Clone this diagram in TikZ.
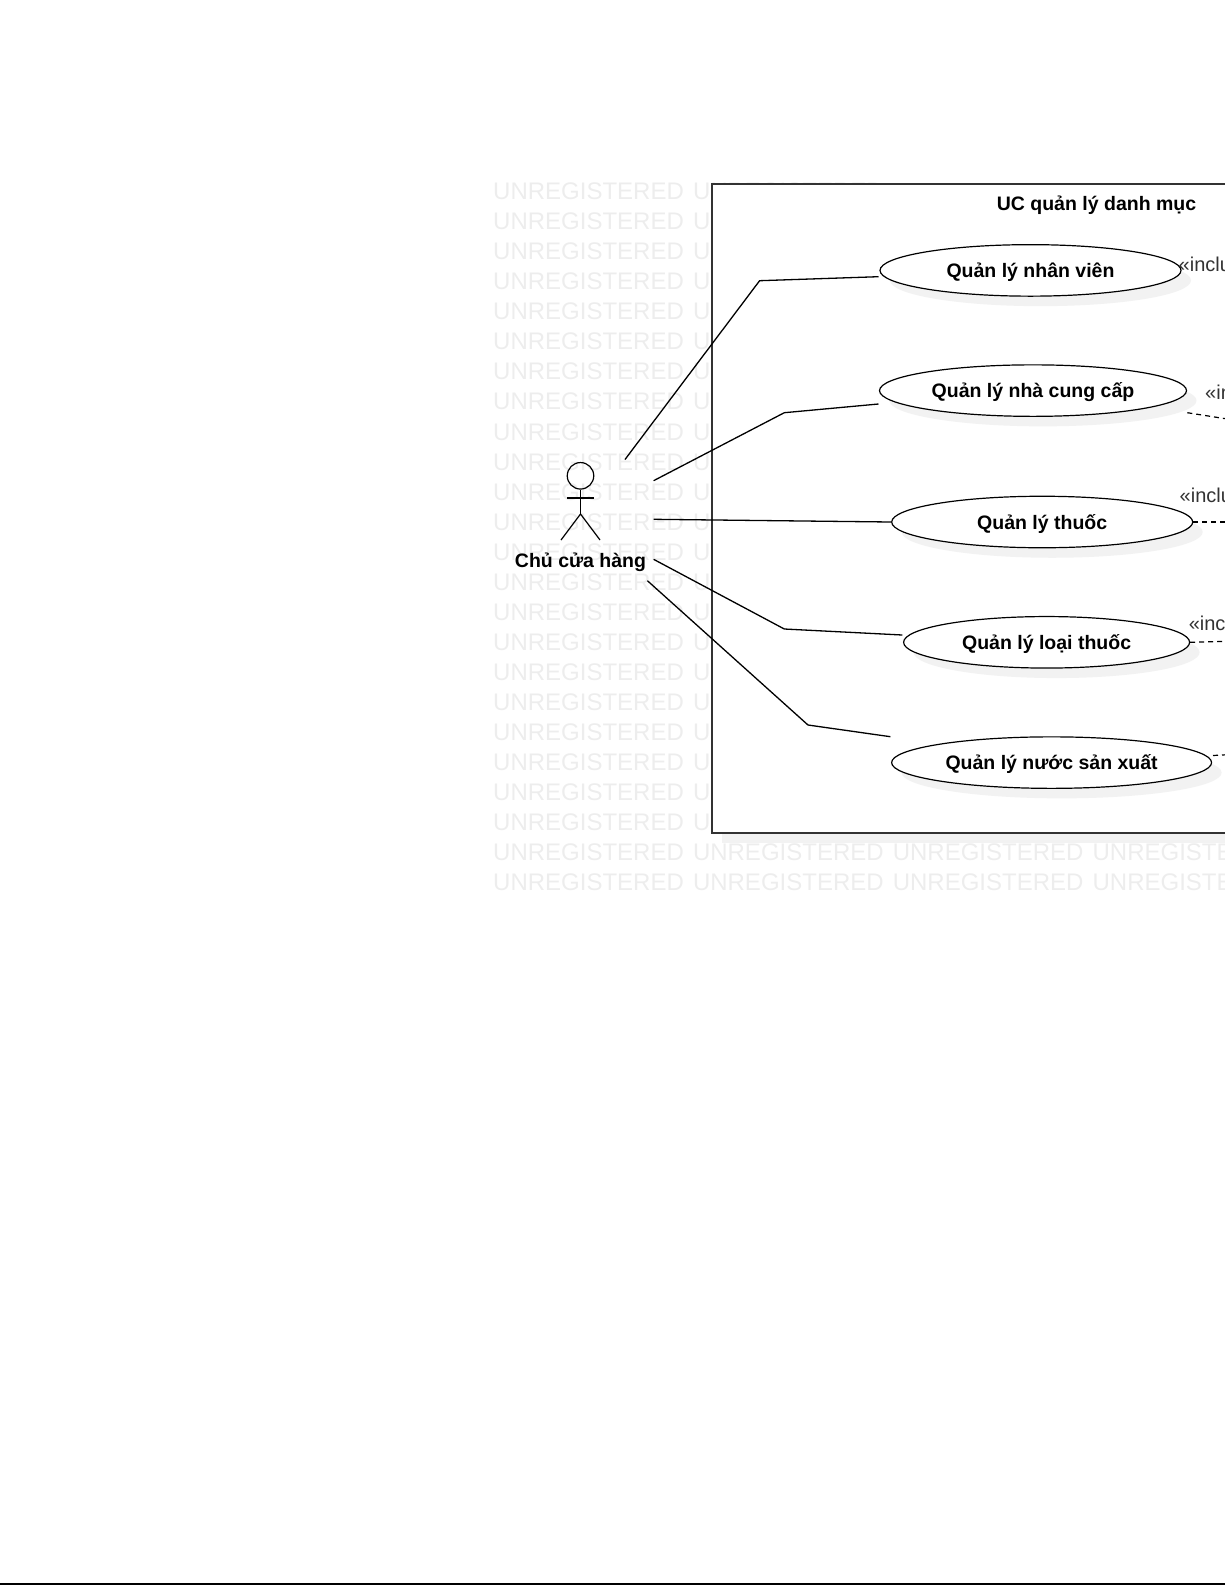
\documentclass[tikz,border=0pt]{standalone}
\usepackage{fontspec}
\setmainfont{Liberation Sans}
\usetikzlibrary{shapes.geometric}
\usetikzlibrary{shadows}
\definecolor{markgray}{HTML}{EDEDED}
\definecolor{shadowgray}{HTML}{F2F2F2}
\definecolor{framegray}{HTML}{333333}
\definecolor{notegray}{HTML}{333333}

\begin{document}
\begin{tikzpicture}[
            x=1pt,y=-1pt,
            usecase/.style={ellipse,draw=black,fill=white,line width=1.2pt,inner sep=0pt,minimum height=51.5pt,font=\fontsize{19.5}{24}\selectfont\bfseries,text height=18pt,text depth=4pt,drop shadow={shadow xshift=10pt,shadow yshift=-10pt,opacity=1,fill=shadowgray}},
            frame box/.style={rectangle,draw=framegray,fill=white,line width=1.5pt,inner sep=0pt,drop shadow={shadow xshift=10pt,shadow yshift=-10pt,opacity=1,fill=shadowgray}},
            title text/.style={font=\fontsize{19.5}{24}\selectfont\bfseries,inner sep=0pt,text height=18pt,text depth=4pt},
            mark text/.style={font=\fontsize{24}{28}\selectfont,text=markgray,inner sep=0pt,anchor=west},
            note text/.style={font=\fontsize{20}{24}\selectfont,text=notegray,inner sep=0pt,anchor=west},
            assoc/.style={draw=black,line width=1.3pt},
            dep/.style={draw=black,line width=1.2pt,dash pattern=on 5pt off 4pt},
            ]

            \useasboundingbox (0,0) rectangle (1225,1585);
            \clip (0,0) rectangle (1225,1585);

            % watermark
            \foreach \r in {0,...,21} {
                \foreach \c in {0,1} {
                    \node[mark text] (mark\r-\c) at ({493 + 199.8 * \c},{191.5 + 30.03 * \r}) {UNREGISTERED};
                }
            }
            \foreach \r in {22,23} {
                \foreach \c in {0,...,3} {
                    \node[mark text] (mark\r-\c) at ({493 + 199.8 * \c},{191.5 + 30.03 * \r}) {UNREGISTERED};
                }
            }

            % page edge
            \coordinate (edgeL) at (0,1584);
            \coordinate (edgeR) at (1225,1584);
            \draw[line width=1.6pt] (edgeL) -- (edgeR);

            \node[frame box, minimum width=700pt, minimum height=649pt] (frame) at (1061.8,508.5) {};
            \node[title text] (title) at (1096.5,203) {UC quản lý danh mục};

            \node[usecase, minimum width=301pt] (nhanvien) at (1030.5,270.4) {Quản lý nhân viên};
            \node[usecase, minimum width=307pt] (nhacungcap) at (1033,390.6) {Quản lý nhà cung cấp};
            \node[usecase, minimum width=301pt] (thuoc) at (1042.2,522) {Quản lý thuốc};
            \node[usecase, minimum width=286pt] (loaithuoc) at (1046.6,642.3) {Quản lý loại thuốc};
            \node[usecase, minimum width=320pt] (nuocsx) at (1051.6,762.6) {Quản lý nước sản xuất};

            % actor
            \node[circle,draw,line width=1.2pt,inner sep=0pt,minimum size=26.5pt] (head) at (580.5,475.8) {};
            \coordinate (hip) at (580.5,514);
            \coordinate (armL) at (567,498);
            \coordinate (armR) at (594,498);
            \coordinate (legL) at (561,540);
            \coordinate (legR) at (600,540);
            \draw[line width=1.2pt] (head) -- (hip);
            \draw[line width=1.2pt] (armL) -- (armR);
            \draw[line width=1.2pt] (legL) -- (hip) -- (legR);
            \node[title text] (actor) at (580.5,560) {Chủ cửa hàng};

            % associations
            \coordinate (a1) at (625,459.5);
            \coordinate (b1) at (759.6,280.7);
            \coordinate (c1) at (878.5,276.7);
            \coordinate (a2) at (653.6,480.7);
            \coordinate (b2) at (784.3,412.7);
            \coordinate (c2) at (878.5,404);
            \coordinate (a3) at (653.6,519.3);
            \coordinate (a4) at (653.6,559.3);
            \coordinate (b4) at (784.3,629);
            \coordinate (c4) at (902.3,635);
            \coordinate (a5) at (647.4,580.7);
            \coordinate (b5) at (808,725);
            \coordinate (c5) at (890.4,736.7);
            \draw[assoc] (a1) -- (b1) -- (c1);
            \draw[assoc] (a2) -- (b2) -- (c2);
            \draw[assoc] (a3) -- (thuoc.west);
            \draw[assoc] (a4) -- (b4) -- (c4);
            \draw[assoc] (a5) -- (b5) -- (c5);

            % includes, cut by the page edge
            \coordinate (d2) at (1187.3,412.7);
            \coordinate (e2) at (1240,421);
            \coordinate (e3) at (1240,522);
            \coordinate (e4) at (1240,641);
            \coordinate (d5) at (1213,755.5);
            \coordinate (e5) at (1240,754);
            \draw[dep] (d2) -- (e2);
            \draw[dep] (thuoc.east) -- (e3);
            \draw[dep] (loaithuoc.east) -- (e4);
            \draw[dep] (d5) -- (e5);

            \node[note text] (inc1) at (1178.5,264.5) {«include»};
            \node[note text] (inc2) at (1205,392) {«include»};
            \node[note text] (inc3) at (1179.5,495) {«include»};
            \node[note text] (inc4) at (1188.6,623.6) {«include»};
\end{tikzpicture}
\end{document}
